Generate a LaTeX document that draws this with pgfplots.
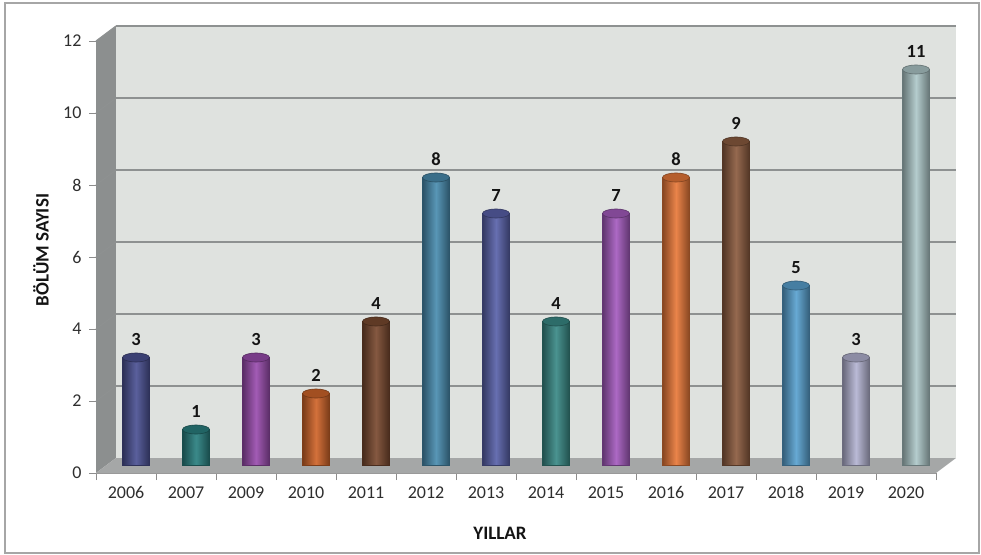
\documentclass[border=0pt]{standalone}
\usepackage{fontspec}
\setmainfont{Carlito}
\usepackage{pgfplots}
\pgfplotsset{compat=1.18}

\definecolor{wallback}{HTML}{DFE2DF}
\definecolor{wallleft}{HTML}{8C8F8F}
\definecolor{floorc}{HTML}{A5A7A7}
\definecolor{gridc}{HTML}{8E9191}
\definecolor{c06}{HTML}{4C5294}
\definecolor{c07}{HTML}{2A8080}
\definecolor{c09}{HTML}{9A4DAE}
\definecolor{c10}{HTML}{D0652A}
\definecolor{c11}{HTML}{7A4A30}
\definecolor{c12}{HTML}{4A8DB0}
\definecolor{c13}{HTML}{5A62AA}
\definecolor{c14}{HTML}{3A8A86}
\definecolor{c15}{HTML}{A55CBF}
\definecolor{c16}{HTML}{E8793A}
\definecolor{c17}{HTML}{8C5C40}
\definecolor{c18}{HTML}{5AA2D0}
\definecolor{c19}{HTML}{B4B4D2}
\definecolor{c20}{HTML}{AEC8C9}

% top of a cylinder
\pgfdeclareplotmark{cyltop}{%
  \pgfpathellipse{\pgfpointorigin}{\pgfqpoint{13.5pt}{0pt}}{\pgfqpoint{0pt}{4.5pt}}%
  \pgfusepathqfillstroke}

\newcommand\tickfont{\fontsize{18}{21}\selectfont}
\newcommand\labfont{\fontsize{19}{22}\selectfont\bfseries}

\pgfplotsset{
  /pgf/number format/assume math mode=true,
  cyl/.style={ybar, bar width=27pt, bar shift=0pt,
    draw=#1!60!black, line width=0.3pt,
    left color=#1!58!black, right color=#1!58!black, middle color=#1!92!white,
    mark=cyltop, mark options={fill=#1!78!black, draw=#1!55!black, line width=0.6pt}},
  wall/.style={scale only axis, width=840pt, height=432pt,
    xmin=-0.5, xmax=13.5, ymin=0, ymax=12, anchor=south west},
}

\begin{document}
\begin{tikzpicture}
\path[use as bounding box] (0pt,0pt) rectangle (981pt,554pt);
\draw[black!35, line width=1.3pt] (5pt,1pt) rectangle (979pt,551pt);

% side wall and floor
\fill[wallleft] (96pt,81pt) -- (116pt,96pt) -- (116pt,528pt) -- (96pt,513pt) -- cycle;
\fill[floorc] (96pt,81pt) -- (936pt,81pt) -- (956pt,96pt) -- (116pt,96pt) -- cycle;

% back wall with grid lines
\begin{axis}[wall, at={(116pt,96pt)},
    axis background/.style={fill=wallback},
    axis line style={draw=none},
    xtick=\empty, ytick={2,4,...,12}, yticklabels={},
    major tick length=0pt,
    ymajorgrids, grid style={gridc, line width=1.1pt}]
\end{axis}
\foreach \k in {1,...,6}
  \draw[gridc, line width=1.1pt] (96pt,{(81+72*\k)*1pt}) -- (116pt,{(96+72*\k)*1pt});

% front axis: ticks and tick labels
\begin{axis}[wall, at={(96pt,81pt)},
    axis x line=bottom, axis y line=left,
    x axis line style={-, draw=black!40, line width=0.8pt},
    y axis line style={-, draw=none},
    tick align=outside, major tick length=7pt, minor tick length=7pt,
    xtick={0,...,13},
    xticklabels={2006,2007,2009,2010,2011,2012,2013,2014,2015,2016,2017,2018,2019,2020},
    minor xtick={-0.5,0.5,...,13.5},
    major x tick style={draw=none},
    minor x tick style={draw=black!45, line width=0.8pt},
    ytick={0,2,...,12},
    y tick style={draw=black!45, line width=0.8pt},
    tick label style={font=\tickfont, text=black!82},
    xticklabel style={yshift=-3pt},
    yticklabel style={xshift=-4pt},
    ]
\end{axis}

% cylinders, half way into the depth
\begin{axis}[wall, at={(106pt,88.5pt)}, hide axis, clip=false,
    nodes near coords,
    nodes near coords style={font=\fontsize{18.5}{21}\selectfont\bfseries, text=black!92, yshift=8.5pt}]
\addplot[cyl=c06] coordinates {(0,3)};
\addplot[cyl=c07] coordinates {(1,1)};
\addplot[cyl=c09] coordinates {(2,3)};
\addplot[cyl=c10] coordinates {(3,2)};
\addplot[cyl=c11] coordinates {(4,4)};
\addplot[cyl=c12] coordinates {(5,8)};
\addplot[cyl=c13] coordinates {(6,7)};
\addplot[cyl=c14] coordinates {(7,4)};
\addplot[cyl=c15] coordinates {(8,7)};
\addplot[cyl=c16] coordinates {(9,8)};
\addplot[cyl=c17] coordinates {(10,9)};
\addplot[cyl=c18] coordinates {(11,5)};
\addplot[cyl=c19] coordinates {(12,3)};
\addplot[cyl=c20] coordinates {(13,11)};
\end{axis}

\node[font=\labfont, text=black!92] at (500pt,21pt) {YILLAR};
\node[font=\labfont, text=black!92, rotate=90] at (41pt,304pt) {BÖLÜM SAYISI};
\end{tikzpicture}
\end{document}
